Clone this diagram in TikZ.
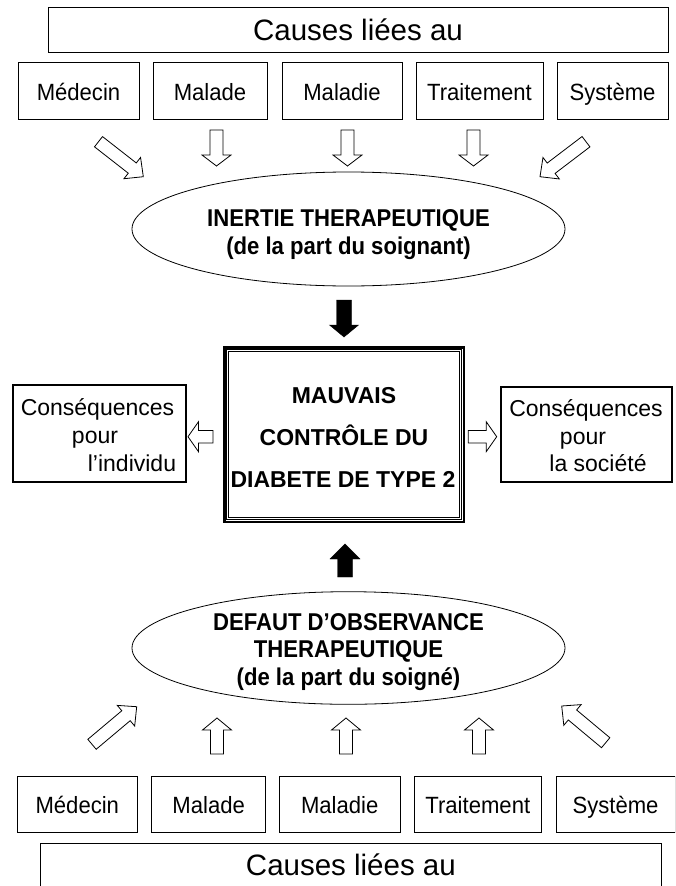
\documentclass[tikz,border=0pt]{standalone}
\usepackage{fontspec}
\setmainfont{Liberation Sans}
\newfontfamily\labelfont[FakeStretch=0.94]{Liberation Sans}
\newfontfamily\ovalfont[FakeStretch=0.91]{Liberation Sans}
\usetikzlibrary{calc,shapes.geometric}
% block arrow: [style]{tail}{tip}{shaft half width}{head half width}{head length}
\newcommand\blockarr[6][]{%
  \coordinate (ba-hb) at ($(#3)!#6!(#2)$);
  \draw[#1] ($(#2)!#4!90:(#3)$) -- ($(ba-hb)!#4!90:(#3)$) -- ($(ba-hb)!#5!90:(#3)$) -- (#3)
    -- ($(ba-hb)!#5!-90:(#3)$) -- ($(ba-hb)!#4!-90:(#3)$) -- ($(#2)!#4!-90:(#3)$) -- cycle;}
\begin{document}
\begin{tikzpicture}[x=1pt,y=-1pt,
  causebox/.style={draw, line width=0.8pt, inner sep=0pt, font=\labelfont\fontsize{23.5}{27}\selectfont, text depth=0pt},
  titlebox/.style={draw, line width=0.8pt, inner sep=0pt, font=\fontsize{29.5}{34}\selectfont, text depth=0pt},
  conbox/.style={draw, line width=2pt, inner sep=0pt},
  contxt/.style={anchor=base, inner sep=0pt, font=\fontsize{23}{27}\selectfont},
  oval/.style={draw, ellipse, line width=0.8pt, inner sep=0pt},
  ovaltxt/.style={anchor=base, inner sep=0pt, font=\ovalfont\fontsize{24.3}{28}\selectfont\bfseries},
  centertxt/.style={anchor=base, inner sep=0pt, font=\fontsize{23}{27}\selectfont\bfseries},
  hollow/.style={draw=black, fill=white, line width=0.8pt, line join=miter},
  solidarr/.style={draw=black, fill=black, line width=0.4pt, line join=miter}]
\useasboundingbox (0,0) rectangle (675,886);
\clip (0,0) rectangle (675,886);
\fill[white] (0,0) rectangle (675,886);

% ---- top causes ----
\node[titlebox, minimum width=620, minimum height=45, text height=21pt] (ttop) at (358,29.5) {Causes liées au};
\node[causebox, minimum width=121, minimum height=57, text height=20.4pt] (medT) at (78.5,90.5) {Médecin};
\node[causebox, minimum width=114, minimum height=57, text height=20.4pt] (malT) at (210,90.5) {Malade};
\node[causebox, minimum width=120, minimum height=57, text height=20.4pt] (mldT) at (342,90.5) {Maladie};
\node[causebox, minimum width=127, minimum height=57, text height=20.4pt] (trtT) at (479.5,90.5) {Traitement};
\node[causebox, minimum width=111, minimum height=57, text height=20.4pt] (sysT) at (612.5,90.5) {Système};

% ---- inertia ellipse ----
\node[oval, minimum width=433, minimum height=114] (inert) at (348.5,229) {};
\node[ovaltxt] (inert1) at (348.5,226) {INERTIE THERAPEUTIQUE};
\node[ovaltxt] (inert2) at (348.5,254) {(de la part du soignant)};

% ---- central box ----
\node[draw, line width=2.2pt, inner sep=0pt, minimum width=239.5, minimum height=174.2] (mcd) at (344.25,434.5) {};
\draw[line width=0.9pt] ($(mcd.north west)+(3.3,3.3)$) rectangle ($(mcd.south east)+(-3.3,-3.3)$);
\draw[line width=0.9pt] ($(mcd.north west)+(5.3,5.3)$) rectangle ($(mcd.south east)+(-5.3,-5.3)$);
\node[centertxt] (mcd1) at (344,403.5) {MAUVAIS};
\node[centertxt] (mcd2) at (344,445.5) {CONTRÔLE DU};
\node[centertxt] (mcd3) at (343,487.5) {DIABETE DE TYPE 2};

% ---- consequences ----
\node[conbox, minimum width=173, minimum height=96.4] (cind) at (99.2,433.5) {};
\node[contxt] (cind1) at (97.5,415) {Conséquences};
\node[contxt] (cind2) at (95,443) {pour};
\node[contxt] (cind3) at (132,471) {l’individu};
\node[conbox, minimum width=171.3, minimum height=95.3] (csoc) at (586.65,434.65) {};
\node[contxt] (csoc1) at (586,416.5) {Conséquences};
\node[contxt] (csoc2) at (583,444) {pour};
\node[contxt] (csoc3) at (598,471.5) {la société};

% ---- observance ellipse ----
\node[oval, minimum width=433, minimum height=112.6] (obs) at (348.5,648) {};
\node[ovaltxt] (obs1) at (348.5,630) {DEFAUT D’OBSERVANCE};
\node[ovaltxt] (obs2) at (348.5,657.7) {THERAPEUTIQUE};
\node[ovaltxt] (obs3) at (348.5,685) {(de la part du soigné)};

% ---- bottom causes ----
\node[causebox, minimum width=120, minimum height=56, text height=18.6pt] (medB) at (77.3,804) {Médecin};
\node[causebox, minimum width=114, minimum height=56, text height=18.6pt] (malB) at (208.7,804) {Malade};
\node[causebox, minimum width=120.7, minimum height=56, text height=18.6pt] (mldB) at (339.7,804) {Maladie};
\node[causebox, minimum width=127.7, minimum height=56, text height=18.6pt] (trtB) at (477.8,804) {Traitement};
\node[causebox, minimum width=119, minimum height=56, text height=18.6pt] (sysB) at (615.5,804) {Système};
\node[draw, line width=0.8pt, minimum width=620.3, minimum height=70, inner sep=0pt] (tbot) at (350.9,878) {};
\node[anchor=base, inner sep=0pt, font=\fontsize{29.5}{34}\selectfont] (tbottxt) at (350.9,875) {Causes liées au};

% ---- arrow end points ----
\coordinate (a1s) at (98.5,141.7);  \coordinate (a1e) at (143.3,176.7);
\coordinate (a2s) at (216.5,130);   \coordinate (a2e) at (216.5,166);
\coordinate (a3s) at (347.5,130);   \coordinate (a3e) at (347.5,166);
\coordinate (a4s) at (473.5,130);   \coordinate (a4e) at (473.5,166);
\coordinate (a5s) at (586,141.7);   \coordinate (a5e) at (540,176.7);

\coordinate (b1s) at (92,744.3);    \coordinate (b1e) at (136.7,706.7);
\coordinate (b2s) at (217,754);     \coordinate (b2e) at (217,718);
\coordinate (b3s) at (346,754);     \coordinate (b3e) at (346,718);
\coordinate (b4s) at (479,754);     \coordinate (b4e) at (479,718);
\coordinate (b5s) at (605.7,742.7); \coordinate (b5e) at (561.7,706);

\coordinate (l1s) at (213,436.7);   \coordinate (l1e) at (188,436.7);
\coordinate (r1s) at (468.3,436.7); \coordinate (r1e) at (496.7,436.7);

\coordinate (k1s) at (344,300);     \coordinate (k1e) at (344,337);
\coordinate (k2s) at (345,577);     \coordinate (k2e) at (345,544);

% ---- hollow arrows ----
\blockarr[hollow]{a1s}{a1e}{6.5pt}{13.5pt}{14pt}
\blockarr[hollow]{a2s}{a2e}{6.5pt}{14.5pt}{11pt}
\blockarr[hollow]{a3s}{a3e}{6.5pt}{14.5pt}{11pt}
\blockarr[hollow]{a4s}{a4e}{6.5pt}{14.5pt}{11pt}
\blockarr[hollow]{a5s}{a5e}{6.5pt}{13.5pt}{14pt}

\blockarr[hollow]{b1s}{b1e}{6.5pt}{13.5pt}{14pt}
\blockarr[hollow]{b2s}{b2e}{6.5pt}{14.5pt}{12pt}
\blockarr[hollow]{b3s}{b3e}{6.5pt}{14.5pt}{12pt}
\blockarr[hollow]{b4s}{b4e}{6.5pt}{14.5pt}{12pt}
\blockarr[hollow]{b5s}{b5e}{6.5pt}{13.5pt}{14pt}

\blockarr[hollow]{l1s}{l1e}{6.3pt}{15pt}{10.5pt}
\blockarr[hollow]{r1s}{r1e}{6.3pt}{15pt}{10.5pt}

% ---- black arrows ----
\blockarr[solidarr]{k1s}{k1e}{7.5pt}{14.5pt}{12pt}
\blockarr[solidarr]{k2s}{k2e}{7.5pt}{15pt}{15pt}
\end{tikzpicture}
\end{document}
